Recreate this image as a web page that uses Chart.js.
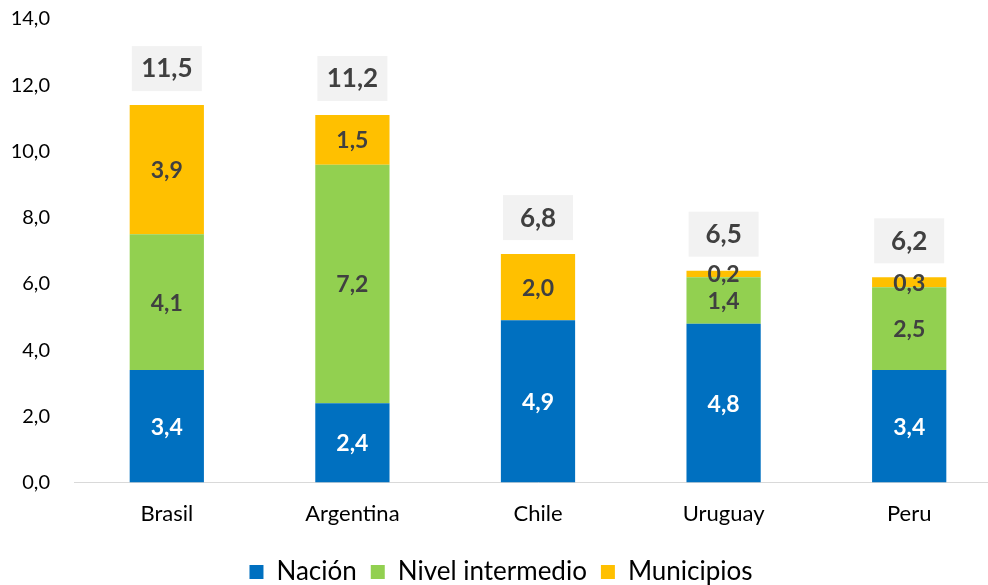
<!DOCTYPE html>
<html>
<head>
<meta charset="utf-8">
<script src="https://cdn.jsdelivr.net/npm/chart.js@4/dist/chart.umd.min.js"></script>
<style>
  html, body { margin: 0; padding: 0; background: #fff; overflow: hidden; }
  #wrap { width: 1002px; height: 585px; }
</style>
</head>
<body>
<div id="wrap"><canvas id="chart"></canvas></div>
<script>
const paises = ["Brasil", "Argentina", "Chile", "Uruguay", "Peru"];
const nacion = [3.4, 2.4, 4.9, 4.8, 3.4];
const intermedio = [4.1, 7.2, 0, 1.4, 2.5];
const municipios = [3.9, 1.5, 2.0, 0.2, 0.3];
const totales = [11.5, 11.2, 6.8, 6.5, 6.2];
const yTicks = [0, 2, 4, 6, 8, 10, 12, 14];

const FONT = "Lato, 'Open Sans', sans-serif";
const fmt = (v) => v.toFixed(1).replace(".", ",");

// etiquetas dentro de las barras y totales arriba
const etiquetas = {
  id: "etiquetas",
  afterDatasetsDraw(chart) {
    const ctx = chart.ctx;
    const y = chart.scales.y;
    ctx.save();
    ctx.textAlign = "center";
    ctx.textBaseline = "middle";
    ctx.font = "bold 23px " + FONT;
    chart.data.datasets.forEach((ds, i) => {
      const meta = chart.getDatasetMeta(i);
      meta.data.forEach((bar, j) => {
        const v = ds.data[j];
        if (!v) return;
        ctx.fillStyle = i === 0 ? "#ffffff" : "#404040";
        ctx.fillText(fmt(v), bar.x, (bar.y + bar.base) / 2 + 1);
      });
    });
    const top = chart.getDatasetMeta(chart.data.datasets.length - 1);
    ctx.font = "bold 26px " + FONT;
    top.data.forEach((bar, j) => {
      const suma = chart.data.datasets.reduce((a, d) => a + d.data[j], 0);
      const cy = y.getPixelForValue(suma) - 37;
      ctx.fillStyle = "#f2f2f2";
      ctx.fillRect(bar.x - 35, cy - 22, 70, 45);
      ctx.fillStyle = "#404040";
      ctx.fillText(fmt(totales[j]), bar.x, cy + 1);
    });
    ctx.restore();
  },
};

new Chart(document.getElementById("chart"), {
  type: "bar",
  data: {
    labels: paises,
    datasets: [
      { label: "Nación", data: nacion, backgroundColor: "#0070C0" },
      { label: "Nivel intermedio", data: intermedio, backgroundColor: "#92D050" },
      { label: "Municipios", data: municipios, backgroundColor: "#FFC000" },
    ],
  },
  options: {
    responsive: true,
    maintainAspectRatio: false,
    animation: false,
    categoryPercentage: 1,
    barPercentage: 0.4,
    layout: { padding: { top: 19, left: 0, right: 0, bottom: -10 } },
    plugins: {
      tooltip: { enabled: false },
      legend: {
        position: "bottom",
        labels: {
          boxWidth: 14,
          boxHeight: 14,
          padding: 14,
          color: "#000",
          font: { family: FONT, size: 26 },
        },
      },
    },
    scales: {
      x: {
        stacked: true,
        grid: { display: false, drawTicks: false },
        border: { color: "#d9d9d9", width: 1 },
        ticks: { color: "#000", font: { family: FONT, size: 22 }, padding: 18 },
      },
      y: {
        stacked: true,
        min: 0,
        max: 14,
        afterBuildTicks: (axis) => {
          axis.ticks = yTicks.map((v) => ({ value: v }));
        },
        afterFit: (axis) => {
          axis.width = 74;
          axis.paddingTop = 0;
        },
        grid: { display: false, drawTicks: false },
        border: { display: false },
        ticks: {
          color: "#000",
          font: { family: FONT, size: 20 },
          padding: 24,
          callback: (v) => fmt(v),
        },
      },
    },
  },
  plugins: [etiquetas],
});
</script>
</body>
</html>
